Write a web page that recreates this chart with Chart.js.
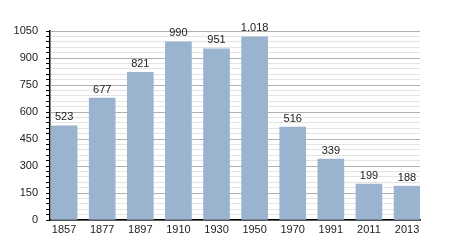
<!DOCTYPE html>
<html>
<head>
<meta charset="utf-8">
<script src="https://cdn.jsdelivr.net/npm/chart.js@4/dist/chart.umd.min.js"></script>
<style>
  html, body { margin: 0; padding: 0; background: #fff; }
  canvas { display: block; }
</style>
</head>
<body>
<canvas id="chart" width="450" height="250"></canvas>
<script>
const years = ["1857", "1877", "1897", "1910", "1930", "1950", "1970", "1991", "2011", "2013"];
const population = [523, 677, 821, 990, 951, 1018, 516, 339, 199, 188];
const yMax = 1050;
const yMajorStep = 150;
const yMinorStep = 30;

const FONT = "'Liberation Sans', Arial, sans-serif";

// thousands with a dot, like the original (1.018)
function fmt(v) {
    return String(v).replace(/\B(?=(\d{3})+(?!\d))/g, ".");
}

const valueLabels = {
    id: "valueLabels",
    afterDatasetsDraw(chart) {
        const ctx = chart.ctx;
        const meta = chart.getDatasetMeta(0);
        ctx.save();
        ctx.font = "11px " + FONT;
        ctx.fillStyle = "#222";
        ctx.textAlign = "center";
        ctx.textBaseline = "bottom";
        meta.data.forEach((bar, i) => {
            ctx.fillText(fmt(population[i]), bar.x, bar.y - 3);
        });
        ctx.restore();
    }
};

// first bar sits on the y axis, last bar touches the right end
const points = population.map((v, i) => ({ x: i, y: v }));

new Chart(document.getElementById("chart"), {
    type: "bar",
    data: {
        datasets: [{
            data: points,
            backgroundColor: "#9ab3cf",
            borderWidth: 0,
            barThickness: 26
        }]
    },
    options: {
        responsive: false,
        animation: false,
        layout: { padding: { top: 31, right: 30, left: 0, bottom: 0 } },
        plugins: {
            legend: { display: false },
            tooltip: { enabled: false }
        },
        scales: {
            x: {
                type: "linear",
                offset: false,
                min: -0.37,
                max: 9.34,
                grid: { display: false, drawTicks: false },
                border: { display: true, color: "#000", width: 1.5 },
                afterBuildTicks(scale) {
                    scale.ticks = years.map((_, i) => ({ value: i }));
                },
                ticks: {
                    autoSkip: false,
                    maxRotation: 0,
                    color: "#222",
                    font: { family: FONT, size: 11 },
                    padding: 3,
                    callback: v => years[v]
                },
                afterFit(scale) { scale.height = 30; }
            },
            y: {
                min: 0,
                max: yMax,
                border: { display: true, color: "#000", width: 1.5 },
                grid: {
                    color: c => (c.tick && c.tick.value % yMajorStep === 0) ? "#b0b0b0" : "#e4e4e4",
                    tickColor: "#000",
                    tickLength: 4,
                    drawTicks: true
                },
                ticks: {
                    stepSize: yMinorStep,
                    autoSkip: false,
                    color: "#222",
                    font: { family: FONT, size: 11 },
                    padding: 8,
                    callback: v => (v % yMajorStep === 0 ? v : "")
                },
                afterFit(scale) { scale.width = 50; }
            }
        }
    },
    plugins: [valueLabels]
});
</script>
</body>
</html>
